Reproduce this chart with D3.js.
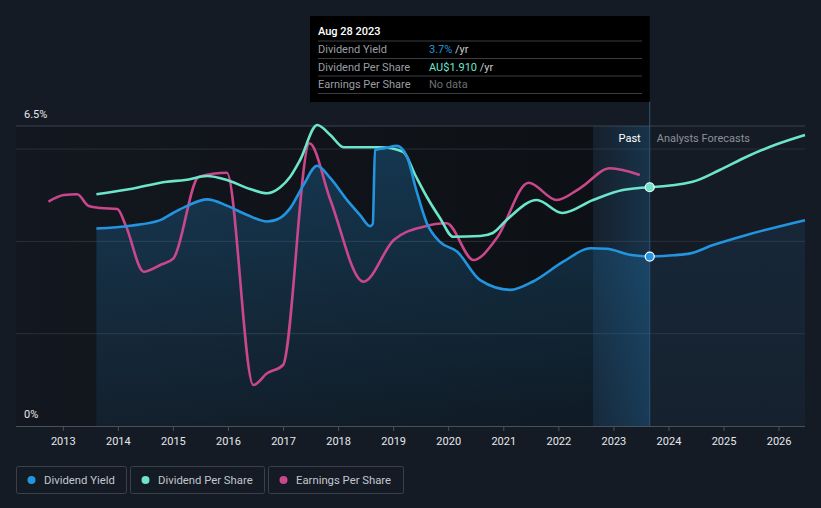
<!DOCTYPE html>
<html><head><meta charset="utf-8">
<script src="https://cdn.jsdelivr.net/npm/d3@7"></script>
<style>
html,body{margin:0;padding:0;background:#151b25;}
svg{display:block;font-family:Roboto,"Noto Sans",sans-serif;}
</style></head><body>
<svg id="chart" width="821" height="508"></svg>
<script>
// ---- data ----
const yearTicks = [2013,2014,2015,2016,2017,2018,2019,2020,2021,2022,2023,2024,2025,2026];
const yieldTicks = [0, 6.5];
const gridValues = [2, 4, 6];

const dyYears = [2013.61,2014.23,2014.77,2015.01,2015.26,2015.62,2015.99,2016.35,2016.71,2016.95,2017.13,2017.37,2017.62,2017.86,2018.16,2018.40,2018.58,2018.63,2018.67,2018.85,2019.07,2019.25,2019.42,2019.61,2019.85,2020.16,2020.58,2021.13,2021.54,2022.09,2022.58,2022.88,2023.30,2023.66];
const dyValues = [4.28,4.34,4.46,4.62,4.77,4.91,4.77,4.57,4.43,4.51,4.72,5.22,5.64,5.37,4.90,4.57,4.33,4.38,5.98,6.02,6.07,5.84,5.11,4.40,3.99,3.78,3.16,2.95,3.13,3.56,3.85,3.84,3.71,3.67];
const dyFcYears = [2023.66,2024.10,2024.40,2024.81,2025.42,2026.48];
const dyFcValues = [3.67,3.70,3.74,3.92,4.14,4.46];

const dpsYears = [2013.61,2014.23,2014.89,2015.22,2015.62,2015.98,2016.40,2016.71,2016.95,2017.13,2017.31,2017.62,2017.86,2018.10,2018.76,2019.18,2019.40,2019.61,2019.85,2020.09,2020.58,2020.81,2021.06,2021.61,2022.07,2022.63,2023.17,2023.66];
const dpsValues = [1.854,1.896,1.954,1.968,2.000,1.968,1.896,1.862,1.910,1.994,2.128,2.408,2.328,2.230,2.230,2.194,2.008,1.834,1.664,1.514,1.520,1.544,1.648,1.808,1.704,1.808,1.888,1.910];
const dpsFcYears = [2023.66,2024.44,2024.93,2025.42,2025.93,2026.48];
const dpsFcValues = [1.910,1.954,2.048,2.154,2.248,2.328];

const epsYears = [2012.74,2013.02,2013.26,2013.47,2013.68,2013.99,2014.14,2014.47,2014.77,2015.01,2015.47,2015.98,2016.46,2016.71,2017.00,2017.48,2017.86,2018.46,2019.01,2019.55,2019.97,2020.46,2020.88,2021.46,2021.97,2022.39,2022.94,2023.48];
const epsValues = [2.243,2.31,2.317,2.20,2.18,2.17,2.01,1.543,1.61,1.677,2.493,2.533,0.41,0.527,0.61,2.827,2.26,1.443,1.86,1.993,2.027,1.66,1.877,2.433,2.26,2.377,2.577,2.51];

const seriesNames = ["Dividend Yield","Dividend Per Share","Earnings Per Share"];
const seriesColors = ["#2394df","#6ce5cb","#c9478b"];
const hoverYear = 2023.66;
const pastStart = 2022.63;

// ---- layout ----
const svg = d3.select("#chart");
const L = 16, R = 805, T = 126, B = 426;
const x = d3.scaleLinear().domain([2012.15, 2026.48]).range([L, R]);
const yPct = d3.scaleLinear().domain([0, 6.5]).range([B, T]);
const yDps = d3.scaleLinear().domain([0, 2.4]).range([B, T]);
const yEps = d3.scaleLinear().domain([0, 3.0]).range([B, T]);

const defs = svg.append("defs");
const gPast = defs.append("linearGradient").attr("id","pastBg").attr("x1",0).attr("x2",1).attr("y1",0).attr("y2",0);
gPast.append("stop").attr("offset","0%").attr("stop-color","#13171f");
gPast.append("stop").attr("offset","100%").attr("stop-color","#0d1014");
const gBand = defs.append("linearGradient").attr("id","band").attr("x1",0).attr("x2",1).attr("y1",0).attr("y2",0);
gBand.append("stop").attr("offset","0%").attr("stop-color","#2394df").attr("stop-opacity",0.04);
gBand.append("stop").attr("offset","100%").attr("stop-color","#2394df").attr("stop-opacity",0.2);
const gArea = defs.append("linearGradient").attr("id","area").attr("x1",0).attr("x2",0).attr("y1",0).attr("y2",1);
gArea.append("stop").attr("offset","0%").attr("stop-color","#2394df").attr("stop-opacity",0.28);
gArea.append("stop").attr("offset","100%").attr("stop-color","#2394df").attr("stop-opacity",0.08);
const gAreaFc = defs.append("linearGradient").attr("id","areaFc").attr("x1",0).attr("x2",0).attr("y1",0).attr("y2",1);
gAreaFc.append("stop").attr("offset","0%").attr("stop-color","#2394df").attr("stop-opacity",0.10);
gAreaFc.append("stop").attr("offset","100%").attr("stop-color","#2394df").attr("stop-opacity",0.05);

// past dark background
svg.append("rect").attr("x", L).attr("y", T).attr("width", x(pastStart) - L).attr("height", B - T).attr("fill", "url(#pastBg)");

// grid lines
svg.selectAll(".grid").data(gridValues).enter().append("line")
  .attr("x1", L).attr("x2", R).attr("y1", d => yPct(d)).attr("y2", d => yPct(d))
  .attr("stroke", "#2a3039").attr("stroke-width", 1);
svg.append("line").attr("x1", L).attr("x2", R).attr("y1", yPct(6.5)).attr("y2", yPct(6.5))
  .attr("stroke", "#3c424b").attr("stroke-width", 1);

// area under dividend yield
const toPts = (xs, vs) => xs.map((t, i) => [t, vs[i]]);
const dyPts = toPts(dyYears, dyValues);
const dyFcPts = toPts(dyFcYears, dyFcValues);
const area = d3.area().x(d => x(d[0])).y0(B).y1(d => yPct(d[1])).curve(d3.curveMonotoneX);
svg.append("path").datum(dyPts).attr("d", area).attr("fill", "url(#area)");
svg.append("path").datum(dyFcPts).attr("d", area).attr("fill", "url(#areaFc)");

// hover band
svg.append("rect").attr("x", x(pastStart)).attr("y", T).attr("width", x(hoverYear) - x(pastStart)).attr("height", B - T).attr("fill", "url(#band)");
svg.append("line").attr("x1", x(hoverYear)).attr("x2", x(hoverYear)).attr("y1", 101).attr("y2", B)
  .attr("stroke", "#2c5577").attr("stroke-width", 1);

// lines
const lineFor = (ys) => d3.line().x(d => x(d[0])).y(d => ys(d[1])).curve(d3.curveMonotoneX);
const lw = 2.6;
svg.append("path").datum(toPts(epsYears, epsValues)).attr("d", lineFor(yEps)).attr("fill","none").attr("stroke", seriesColors[2]).attr("stroke-width", lw);
svg.append("path").datum(toPts(dpsYears, dpsValues)).attr("d", lineFor(yDps)).attr("fill","none").attr("stroke", seriesColors[1]).attr("stroke-width", lw);
svg.append("path").datum(toPts(dpsFcYears, dpsFcValues)).attr("d", lineFor(yDps)).attr("fill","none").attr("stroke", seriesColors[1]).attr("stroke-width", lw);
svg.append("path").datum(dyPts).attr("d", lineFor(yPct)).attr("fill","none").attr("stroke", seriesColors[0]).attr("stroke-width", lw);
svg.append("path").datum(dyFcPts).attr("d", lineFor(yPct)).attr("fill","none").attr("stroke", seriesColors[0]).attr("stroke-width", lw);

// hover dots
svg.append("circle").attr("cx", x(hoverYear)).attr("cy", yDps(dpsValues[dpsValues.length-1])).attr("r", 4.5)
  .attr("fill", seriesColors[1]).attr("stroke", "#ffffff").attr("stroke-width", 1.2);
svg.append("circle").attr("cx", x(hoverYear)).attr("cy", yPct(dyValues[dyValues.length-1])).attr("r", 4.5)
  .attr("fill", seriesColors[0]).attr("stroke", "#ffffff").attr("stroke-width", 1.2);

// Past / forecast labels
svg.append("text").attr("x", x(hoverYear) - 9).attr("y", 142).attr("text-anchor","end")
  .attr("fill","#ffffff").attr("font-size", 11).text("Past");
svg.append("text").attr("x", x(hoverYear) + 7).attr("y", 142)
  .attr("fill","#8b9199").attr("font-size", 11).text("Analysts Forecasts");

// x axis
const xAxis = d3.axisBottom(x).tickValues(yearTicks).tickFormat(d3.format("d")).tickSize(5).tickPadding(6);
const gx = svg.append("g").attr("transform", `translate(0,${B})`).call(xAxis);
gx.select(".domain").attr("stroke", "#4a5058").attr("d", `M${L},0.5H${R}`);
gx.selectAll(".tick line").attr("stroke", "#4a5058");
gx.selectAll(".tick text").attr("fill", "#e6e8eb").attr("font-size", 11).attr("font-family","Roboto, sans-serif");

// y labels
svg.selectAll(".ylab").data(yieldTicks).enter().append("text")
  .attr("x", 24).attr("y", d => yPct(d) - 8)
  .attr("fill", "#e6e8eb").attr("font-size", 11).text(d => d + "%");

// tooltip
const tt = svg.append("g");
tt.append("rect").attr("x", 310).attr("y", 16).attr("width", x(hoverYear) - 310).attr("height", 86).attr("fill", "#000000");
tt.append("text").attr("x", 318).attr("y", 35).attr("fill", "#ffffff").attr("font-size", 11).attr("font-weight", 500).text("Aug 28 2023");
[41, 58.5, 76, 93.5].forEach(yy => tt.append("line").attr("x1", 318).attr("x2", 642).attr("y1", yy).attr("y2", yy).attr("stroke", "#3a3d42").attr("stroke-width", 1));
const rows = [
  {label: seriesNames[0], value: "3.7%", unit: " /yr", color: seriesColors[0]},
  {label: seriesNames[1], value: "AU$1.910", unit: " /yr", color: seriesColors[1]},
  {label: seriesNames[2], value: "No data", unit: "", color: "#6b6f75"}
];
rows.forEach((r, i) => {
  const yy = 53 + i * 17.5;
  tt.append("text").attr("x", 318).attr("y", yy).attr("fill", "#9a9ea4").attr("font-size", 11).text(r.label);
  const t = tt.append("text").attr("x", 429).attr("y", yy).attr("font-size", 11);
  t.append("tspan").attr("fill", r.color).text(r.value);
  t.append("tspan").attr("fill", "#c9ccd0").text(r.unit);
});

// legend
const legendBoxes = [[16, 110], [130, 134], [268, 135]];
seriesNames.forEach((name, i) => {
  const [lx, lw2] = legendBoxes[i];
  const g = svg.append("g");
  g.append("rect").attr("x", lx + 0.5).attr("y", 466.5).attr("width", lw2).attr("height", 27).attr("rx", 2)
    .attr("fill", "none").attr("stroke", "#3b414a");
  g.append("circle").attr("cx", lx + 15.5).attr("cy", 480).attr("r", 4).attr("fill", seriesColors[i]);
  g.append("text").attr("x", lx + 28).attr("y", 484).attr("fill", "#c3c7cd").attr("font-size", 11.3).text(name);
});
</script>
</body></html>
